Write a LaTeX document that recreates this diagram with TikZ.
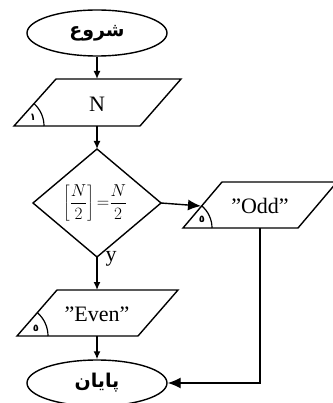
\documentclass[tikz,border=0pt]{standalone}
\usepackage{fontspec}
\setmainfont{Liberation Serif}
\newfontfamily\fa[Script=Arabic]{DejaVu Sans}
\TeXXeTstate=1
\usetikzlibrary{arrows.meta,shapes.geometric}
\newcommand{\qq}{\symbol{"22}}
\tikzset{
  box/.style={draw, line width=1.4pt, line join=miter},
  arr/.style={draw, line width=1.4pt, -{Latex[length=8pt,width=7pt]}},
  bigarr/.style={draw, line width=1.4pt, -{Latex[length=13pt,width=11pt]}},
  term/.style={ellipse, draw, line width=1.4pt, minimum width=140pt, minimum height=46pt, inner sep=0pt, font=\fa\bfseries\fontsize{19}{22}\selectfont},
  txt/.style={font=\fontsize{22}{25}\selectfont, inner sep=0pt},
  num/.style={font=\fa\bfseries\fontsize{10}{11}\selectfont, inner sep=0pt}
}
\begin{document}
\begin{tikzpicture}[x=1pt,y=-1pt]
\useasboundingbox (0,0) rectangle (332,403);
% start
\node[term] (start) at (97,33) {\beginR شروع\endR};
% input N
\draw[box] (56,79) -- (181,79) -- (140,126) -- (14,126) -- cycle;
\draw[line width=1.2pt] (44,126) arc[start angle=0, end angle=48, radius=30pt];
\node[num] (n1) at (33,117) {١};
\node[txt] (N) at (97,104) {N};
\coordinate (inT) at (97,79);
\coordinate (inB) at (97,126);
% decision
\draw[box] (97,149) -- (161,203) -- (97,257) -- (33,203) -- cycle;
\coordinate (dT) at (97,149);
\coordinate (dR) at (161,203);
\coordinate (dB) at (97,257);
\node[inner sep=0pt, font=\fontsize{17}{19}\selectfont] (cond) at (95,203) {$\displaystyle\left[\frac{N}{2}\right]{=}\frac{N}{2}$};
\node[font=\fontsize{22}{25}\selectfont, inner sep=0pt] (y) at (111,259) {y};
% odd output
\draw[box] (222,182) -- (337,182) -- (298,228) -- (183,228) -- cycle;
\draw[line width=1.2pt] (212,228) arc[start angle=0, end angle=50, radius=29pt];
\node[num] (n2) at (202,219) {٥};
\node[txt] (odd) at (260,206) {\qq Odd\qq};
\coordinate (oddL) at (201,206);
\coordinate (oddB) at (260,228);
% even output
\draw[box] (57,290) -- (178,290) -- (138,336) -- (17,336) -- cycle;
\draw[line width=1.2pt] (48,336) arc[start angle=0, end angle=49, radius=31pt];
\node[num] (n3) at (36,328) {٥};
\node[txt] (even) at (97,314) {\qq Even\qq};
\coordinate (evT) at (97,290);
\coordinate (evB) at (97,336);
% end
\node[term] (end) at (97,383) {\beginR پایان\endR};
\coordinate (corner) at (260,383);
% connectors
\draw[arr] (start) -- (inT);
\draw[arr] (inB) -- (dT);
\draw[bigarr] (dR) -- (oddL);
\draw[arr] (dB) -- (evT);
\draw[arr] (evB) -- (end);
\draw[bigarr] (oddB) -- (corner) -- (end.east);
\end{tikzpicture}
\end{document}
